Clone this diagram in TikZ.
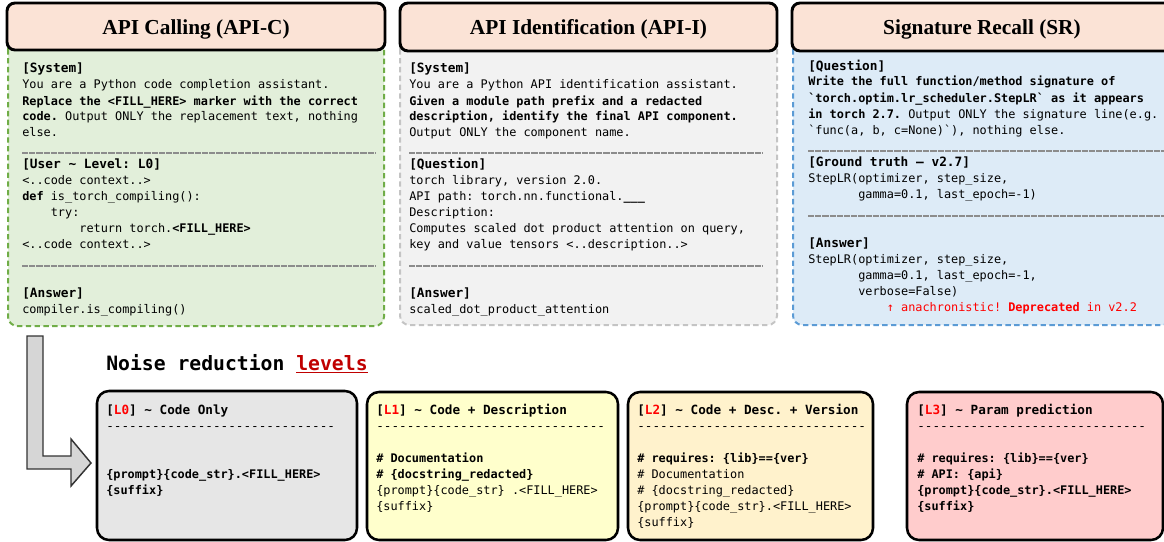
\documentclass[tikz,border=0pt]{standalone}
\usepackage{fontspec}
\setmainfont{Liberation Serif}
\setmonofont{DejaVu Sans Mono}
\definecolor{hdrfill}{HTML}{FBE3D6}
\definecolor{gfill}{HTML}{E2EFDA}
\definecolor{gline}{HTML}{70AD47}
\definecolor{afill}{HTML}{F2F2F2}
\definecolor{aline}{HTML}{C4C4C4}
\definecolor{bfill}{HTML}{DDEBF7}
\definecolor{bline}{HTML}{5B9BD5}
\definecolor{sepgray}{HTML}{8C8C8C}
\definecolor{l0fill}{HTML}{E6E6E6}
\definecolor{l1fill}{HTML}{FFFFCC}
\definecolor{l2fill}{HTML}{FFF2CC}
\definecolor{l3fill}{HTML}{FFCCCC}
\definecolor{lvred}{HTML}{FF0000}
\definecolor{darkred}{HTML}{C00000}
\definecolor{arrfill}{HTML}{D6D6D6}
\newcommand\hd[1]{{\fontsize{9.6}{12}\selectfont\bfseries #1}}
\newcommand\lh[1]{{\fontsize{9.5}{12}\selectfont\bfseries #1}}
\newcommand\dashline{{\fontsize{9.5}{12}\selectfont ------------------------------}}
\newcommand\lv[1]{{\color{lvred}#1}}
\tikzset{
  hdr/.style={draw=black, line width=2.2pt, fill=hdrfill, rounded corners=6pt},
  ttl/.style={font=\fontsize{16}{19}\selectfont\bfseries, inner sep=0pt, anchor=base},
  panel/.style={line width=1.5pt, dash pattern=on 4pt off 2.6pt, rounded corners=7pt},
  code/.style={font=\ttfamily\fontsize{8.9}{12}\selectfont, align=left, inner sep=0pt, anchor=base west},
  sep/.style={draw=sepgray, line width=0.9pt, dash pattern=on 4.7pt off 0.7pt},
  lvbox/.style={draw=black, line width=1.9pt, rounded corners=9pt},
}
\begin{document}
\begin{tikzpicture}[x=0.75pt,y=-0.75pt]
\path[use as bounding box] (0,0) rectangle (1164,542);
\clip (0,0) rectangle (1164,542);

% ---------- Panel 1: API Calling ----------
\draw[panel, draw=gline, fill=gfill] (8,40) rectangle (384,326);
\draw[hdr] (7,3) rectangle (385,50);
\node[ttl] (t1) at (196,35) {API Calling (API-C)};
\node[code] (c1sys) at (22,137) {\hd{[System]}\\
You are a Python code completion assistant.\\
\textbf{Replace the <FILL\_HERE> marker with the correct}\\
\textbf{code.} Output ONLY the replacement text, nothing\\
else.};
\draw[sep] (22,153) -- (375,153);
\node[code] (c1usr) at (22,248) {\hd{[User \textasciitilde{} Level: L0]}\\
<..code context..>\\
\textbf{def} is\_torch\_compiling():\\
\phantom{xxxx}try:\\
\phantom{xxxxxxxx}return torch.\textbf{<FILL\_HERE>}\\
<..code context..>};
\draw[sep] (22,266) -- (375,266);
\node[code] (c1ans) at (22,313) {\hd{[Answer]}\\
compiler.is\_compiling()};

% ---------- Panel 2: API Identification ----------
\draw[panel, draw=aline, fill=afill] (400,40) rectangle (777,325);
\draw[hdr] (400,3) rectangle (777,51);
\node[ttl] (t2) at (588.5,35) {API Identification (API-I)};
\node[code] (c2sys) at (409,137) {\hd{[System]}\\
You are a Python API identification assistant.\\
\textbf{Given a module path prefix and a redacted}\\
\textbf{description, identify the final API component.}\\
Output ONLY the component name.};
\draw[sep] (409,153) -- (763,153);
\node[code] (c2q) at (409,248) {\hd{[Question]}\\
torch library, version 2.0.\\
API path: torch.nn.functional.\textbf{\_\_\_}\\
Description:\\
Computes scaled dot product attention on query,\\
key and value tensors <..description..>};
\draw[sep] (409,266) -- (763,266);
\node[code] (c2ans) at (409,313) {\hd{[Answer]}\\
scaled\_dot\_product\_attention};

% ---------- Panel 3: Signature Recall ----------
\draw[panel, draw=bline, fill=bfill] (793,40) rectangle (1172,325);
\draw[hdr] (792,3) rectangle (1172,51);
\node[ttl] (t3) at (982,35) {Signature Recall (SR)};
\node[code] (c3q) at (808,134) {\hd{[Question]}\\
\textbf{Write the full function/method signature of}\\
\textbf{`torch.optim.lr\_scheduler.StepLR` as it appears}\\
\textbf{in torch 2.7.} Output ONLY the signature line(e.g.\\
`func(a, b, c=None)`), nothing else.};
\draw[sep] (808,151) -- (1164,151);
\node[code] (c3gt) at (808,198) {\hd{[Ground truth — v2.7]}\\
StepLR(optimizer, step\_size,\\
\phantom{StepLR(}gamma=0.1, last\_epoch=-1)};
\draw[sep] (808,216) -- (1164,216);
\node[code] (c3ans) at (808,311) {\hd{[Answer]}\\
StepLR(optimizer, step\_size,\\
\phantom{StepLR(}gamma=0.1, last\_epoch=-1,\\
\phantom{StepLR(}verbose=False)\\
\phantom{xxxxxxxxxxx}{\color{lvred}↑ anachronistic! \textbf{Deprecated} in v2.2}};

% ---------- Bent arrow ----------
\draw[fill=arrfill, draw=black!80, line width=1.1pt, line join=miter]
  (27,336) -- (43,336) -- (43,456) -- (71,456) -- (71,439) -- (91,463)
  -- (71,486) -- (71,469) -- (27,469) -- cycle;

% ---------- Noise reduction levels ----------
\node[font=\ttfamily\fontsize{14.8}{17}\selectfont\bfseries, inner sep=0pt, anchor=base west]
  (nrl) at (106,370) {Noise reduction {\color{darkred}\underline{levels}}};

\draw[lvbox, fill=l0fill] (97,391) rectangle (357,540);
\node[code] (l0) at (106,494) {\lh{[\lv{L0}] \textasciitilde{} Code Only}\\
\dashline\\
\mbox{}\\
\mbox{}\\
\textbf{\{prompt\}\{code\_str\}.<FILL\_HERE>}\\
\textbf{\{suffix\}}};

\draw[lvbox, fill=l1fill] (367,392) rectangle (618,540);
\node[code] (l1) at (376,510) {\lh{[\lv{L1}] \textasciitilde{} Code + Description}\\
\dashline\\
\mbox{}\\
\textbf{\# Documentation}\\
\textbf{\# \{docstring\_redacted\}}\\
\{prompt\}\{code\_str\} .<FILL\_HERE>\\
\{suffix\}};

\draw[lvbox, fill=l2fill] (628,392) rectangle (873,540);
\node[code] (l2) at (637,526) {\lh{[\lv{L2}] \textasciitilde{} Code + Desc. + Version}\\
\dashline\\
\mbox{}\\
\textbf{\# requires: \{lib\}==\{ver\}}\\
\# Documentation\\
\# \{docstring\_redacted\}\\
\{prompt\}\{code\_str\}.<FILL\_HERE>\\
\{suffix\}};

\draw[lvbox, fill=l3fill] (907,392) rectangle (1163,540);
\node[code] (l3) at (917,510) {\lh{[\lv{L3}] \textasciitilde{} Param prediction}\\
\dashline\\
\mbox{}\\
\textbf{\# requires: \{lib\}==\{ver\}}\\
\textbf{\# API: \{api\}}\\
\textbf{\{prompt\}\{code\_str\}.<FILL\_HERE>}\\
\textbf{\{suffix\}}};
\end{tikzpicture}
\end{document}
